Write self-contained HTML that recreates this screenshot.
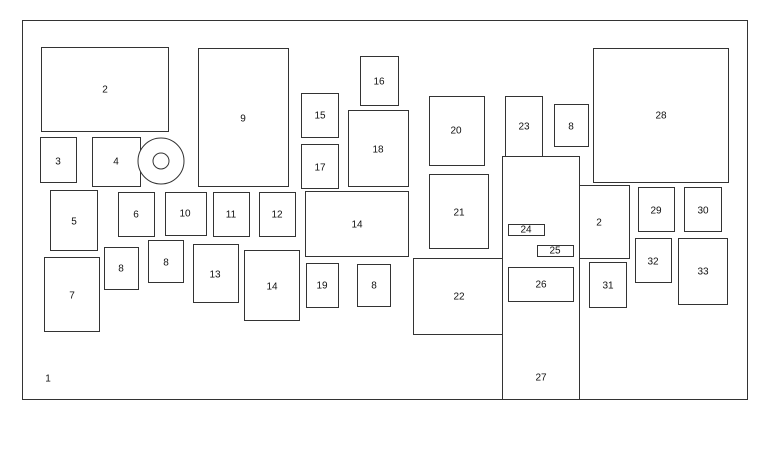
<!DOCTYPE html>
<html><head><meta charset="utf-8"><style>html,body{margin:0;padding:0;background:#fff}svg{display:block}text{font-family:"Liberation Sans",sans-serif;font-size:10px;fill:#111;text-anchor:middle;dominant-baseline:central}rect,circle{fill:#fff;stroke:#333;stroke-width:1}</style></head><body>
<svg width="768" height="457" viewBox="0 0 768 457" xmlns="http://www.w3.org/2000/svg">
<rect x="22.5" y="20.5" width="725" height="379"/>
<g id="b"></g>
<rect x="41.5" y="47.5" width="127" height="84"/><text x="105" y="90">2</text>
<rect x="198.5" y="48.5" width="90" height="138"/><text x="243" y="119">9</text>
<rect x="360.5" y="56.5" width="38" height="49"/><text x="379" y="82">16</text>
<rect x="301.5" y="93.5" width="37" height="44"/><text x="320" y="116">15</text>
<rect x="348.5" y="110.5" width="60" height="76"/><text x="378" y="150">18</text>
<rect x="301.5" y="144.5" width="37" height="44"/><text x="320" y="168">17</text>
<rect x="429.5" y="96.5" width="55" height="69"/><text x="456" y="131">20</text>
<rect x="505.5" y="96.5" width="37" height="60"/><text x="524" y="127">23</text>
<rect x="554.5" y="104.5" width="34" height="42"/><text x="571" y="127">8</text>
<rect x="593.5" y="48.5" width="135" height="134"/><text x="661" y="116">28</text>
<rect x="40.5" y="137.5" width="36" height="45"/><text x="58" y="162">3</text>
<rect x="92.5" y="137.5" width="48" height="49"/><text x="116" y="162">4</text>
<circle cx="161" cy="161" r="23"/><circle cx="161" cy="161" r="8"/>
<rect x="50.5" y="190.5" width="47" height="60"/><text x="74" y="222">5</text>
<rect x="118.5" y="192.5" width="36" height="44"/><text x="136" y="215">6</text>
<rect x="165.5" y="192.5" width="41" height="43"/><text x="185" y="214">10</text>
<rect x="213.5" y="192.5" width="36" height="44"/><text x="231" y="215">11</text>
<rect x="259.5" y="192.5" width="36" height="44"/><text x="277" y="215">12</text>
<rect x="305.5" y="191.5" width="103" height="65"/><text x="357" y="225">14</text>
<rect x="429.5" y="174.5" width="59" height="74"/><text x="459" y="213">21</text>
<rect x="413.5" y="258.5" width="89" height="76"/><text x="459" y="297">22</text>
<rect x="502.5" y="156.5" width="77" height="243"/><text x="541" y="378">27</text>
<rect x="508.5" y="224.5" width="36" height="11"/><text x="526" y="230">24</text>
<rect x="537.5" y="245.5" width="36" height="11"/><text x="555" y="251">25</text>
<rect x="508.5" y="267.5" width="65" height="34"/><text x="541" y="285">26</text>
<rect x="579.5" y="185.5" width="50" height="73"/><text x="599" y="223">2</text>
<rect x="638.5" y="187.5" width="36" height="44"/><text x="656" y="211">29</text>
<rect x="684.5" y="187.5" width="37" height="44"/><text x="703" y="211">30</text>
<rect x="44.5" y="257.5" width="55" height="74"/><text x="72" y="296">7</text>
<rect x="104.5" y="247.5" width="34" height="42"/><text x="121" y="269">8</text>
<rect x="148.5" y="240.5" width="35" height="42"/><text x="166" y="263">8</text>
<rect x="193.5" y="244.5" width="45" height="58"/><text x="215" y="275">13</text>
<rect x="244.5" y="250.5" width="55" height="70"/><text x="272" y="287">14</text>
<rect x="306.5" y="263.5" width="32" height="44"/><text x="322" y="286">19</text>
<rect x="357.5" y="264.5" width="33" height="42"/><text x="374" y="286">8</text>
<rect x="589.5" y="262.5" width="37" height="45"/><text x="608" y="286">31</text>
<rect x="635.5" y="238.5" width="36" height="44"/><text x="653" y="262">32</text>
<rect x="678.5" y="238.5" width="49" height="66"/><text x="703" y="272">33</text>
<text x="48" y="379">1</text>
</svg>
</body></html>
